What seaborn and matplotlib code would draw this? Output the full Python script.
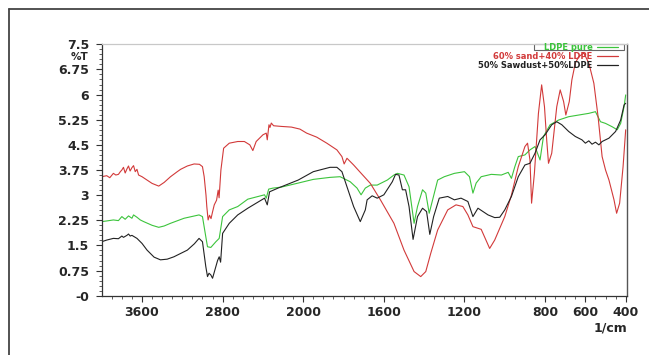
import numpy as np
import pandas as pd
import matplotlib
matplotlib.use("Agg")
import matplotlib.pyplot as plt
from matplotlib.lines import Line2D
from matplotlib.patches import Rectangle
from matplotlib.ticker import FixedLocator, FuncFormatter
import seaborn as sns

# ---------------- data ----------------
series_names = ["LDPE pure", "60% sand+40% LDPE", "50% Sawdust+50%LDPE"]
series_colors = ["#3cc43c", "#d23a3a", "#222222"]

green_wn = [4000, 3950, 3884, 3834, 3800, 3767, 3734, 3700, 3684, 3650, 3617, 3583, 3500, 3434,
            3380, 3317, 3183, 3034, 3000, 2967, 2950, 2917, 2867, 2834, 2800, 2734, 2650, 2550,
            2384, 2367, 2343, 2300, 2217, 2050, 1950, 1867, 1817, 1767, 1733, 1713, 1692, 1667,
            1633, 1583, 1550, 1533, 1500, 1475, 1450, 1433, 1408, 1392, 1375, 1358, 1333, 1300,
            1250, 1200, 1175, 1158, 1142, 1117, 1067, 1017, 983, 967, 950, 933, 900, 875, 850,
            825, 808, 775, 733, 683, 633, 583, 550, 525, 500, 467, 442, 425, 408, 400]
green_t = [2.21, 2.23, 2.26, 2.24, 2.36, 2.28, 2.38, 2.31, 2.41, 2.34, 2.26, 2.21, 2.10, 2.04,
           2.08, 2.16, 2.31, 2.41, 2.36, 1.76, 1.46, 1.44, 1.61, 1.71, 2.36, 2.56, 2.66, 2.88,
           3.01, 2.91, 3.18, 3.21, 3.24, 3.36, 3.47, 3.53, 3.55, 3.40, 3.21, 3.01, 3.21, 3.30,
           3.30, 3.45, 3.60, 3.65, 3.60, 3.25, 2.16, 2.66, 3.16, 3.06, 2.46, 2.86, 3.45, 3.55,
           3.65, 3.70, 3.55, 3.06, 3.36, 3.55, 3.62, 3.60, 3.68, 3.50, 3.85, 4.15, 4.20, 4.35, 4.45,
           4.05, 4.75, 5.10, 5.24, 5.34, 5.39, 5.44, 5.49, 5.19, 5.14, 5.04, 4.95, 5.14, 5.64, 5.99]

red_wn = [4000, 3950, 3920, 3884, 3860, 3834, 3815, 3800, 3784, 3767, 3750, 3734, 3718, 3700,
          3684, 3667, 3650, 3634, 3600, 3550, 3500, 3434, 3380, 3317, 3250, 3217, 3150, 3083,
          3030, 3000, 2983, 2965, 2957, 2944, 2930, 2915, 2900, 2883, 2860, 2844, 2835, 2817,
          2790, 2734, 2650, 2584, 2530, 2500, 2467, 2400, 2367, 2357, 2340, 2330, 2317, 2294,
          2217, 2117, 2033, 1983, 1933, 1883, 1833, 1808, 1797, 1783, 1750, 1717, 1667, 1617,
          1550, 1500, 1450, 1417, 1392, 1367, 1333, 1283, 1242, 1208, 1183, 1158, 1117, 1075,
          1050, 1000, 967, 933, 900, 887, 875, 867, 853, 833, 817, 803, 792, 783, 767, 742, 725,
          708, 697, 680, 667, 650, 633, 608, 583, 558, 537, 517, 500, 483, 458, 445, 430, 413,
          400]
red_t = [3.55, 3.58, 3.52, 3.65, 3.60, 3.62, 3.70, 3.75, 3.83, 3.66, 3.78, 3.87, 3.72, 3.82,
         3.88, 3.70, 3.77, 3.60, 3.55, 3.45, 3.35, 3.27, 3.38, 3.55, 3.70, 3.77, 3.87, 3.93,
         3.92, 3.85, 3.55, 3.00, 2.66, 2.26, 2.40, 2.30, 2.50, 2.71, 2.85, 3.15, 2.92, 3.75,
         4.40, 4.55, 4.60, 4.60, 4.50, 4.33, 4.60, 4.80, 4.85, 4.65, 5.10, 5.02, 5.15, 5.07,
         5.05, 5.03, 4.97, 4.85, 4.73, 4.55, 4.35, 4.15, 3.93, 4.10, 3.90, 3.68, 3.35, 2.86,
         2.16, 1.36, 0.72, 0.57, 0.72, 1.27, 1.96, 2.56, 2.71, 2.66, 2.41, 2.06, 1.98, 1.41,
         1.66, 2.36, 3.00, 3.85, 4.45, 4.55, 4.05, 2.76, 3.65, 5.44, 6.29, 5.64, 4.65, 3.95, 4.25,
         5.64, 6.14, 5.79, 5.39, 5.79, 6.44, 6.94, 7.13, 7.24, 6.94, 6.34, 5.34, 4.15, 3.75, 3.45,
         2.86, 2.46, 2.76, 3.85, 4.95]

black_wn = [4000, 3950, 3884, 3834, 3800, 3784, 3750, 3734, 3717, 3700, 3650, 3600, 3550, 3480,
            3417, 3350, 3284, 3150, 3080, 3034, 3000, 2967, 2950, 2935, 2917, 2900, 2867, 2850,
            2834, 2820, 2800, 2734, 2650, 2550, 2384, 2357, 2334, 2250, 2050, 1950, 1867, 1833,
            1808, 1783, 1750, 1717, 1692, 1683, 1658, 1633, 1600, 1558, 1542, 1525, 1508, 1492,
            1475, 1455, 1433, 1408, 1388, 1372, 1353, 1325, 1283, 1250, 1217, 1183, 1158, 1133,
            1108, 1083, 1050, 1025, 1000, 967, 933, 900, 875, 850, 825, 800, 767, 742, 717, 683,
            650, 617, 600, 583, 567, 550, 533, 517, 483, 450, 425, 408, 400]
black_t = [1.61, 1.66, 1.71, 1.70, 1.78, 1.74, 1.80, 1.84, 1.78, 1.80, 1.71, 1.56, 1.36, 1.15,
           1.07, 1.09, 1.16, 1.36, 1.55, 1.71, 1.61, 0.87, 0.57, 0.67, 0.62, 0.52, 0.87, 1.05,
           1.16, 1.00, 1.86, 2.16, 2.41, 2.61, 2.91, 2.71, 3.10, 3.21, 3.45, 3.70, 3.83, 3.83,
           3.70, 3.25, 2.66, 2.21, 2.56, 2.86, 2.98, 2.91, 3.01, 3.40, 3.62, 3.60, 3.16, 3.16,
           2.66, 1.68, 2.36, 2.61, 2.51, 1.83, 2.36, 2.91, 2.96, 2.86, 2.91, 2.81, 2.36, 2.61,
           2.51, 2.41, 2.33, 2.34, 2.56, 2.96, 3.55, 3.90, 3.95, 4.25, 4.65, 4.80, 5.10, 5.19,
           5.10, 4.90, 4.75, 4.65, 4.55, 4.62, 4.52, 4.58, 4.50, 4.60, 4.70, 4.90, 5.24, 5.69, 5.74]

x_major = [3600, 2800, 2000, 1600, 1200, 800, 600, 400]
y_major = [0, 0.75, 1.5, 2.25, 3, 3.75, 4.5, 5.25, 6, 6.75, 7.5]
y_labels = ["-0", "0.75", "1.5", "2.25", "3", "3.75", "4.5", "5.25", "6", "6.75", "7.5"]

# ---------------- frame ----------------
df = pd.concat([
    pd.DataFrame({"wn": green_wn, "T": green_t, "s": series_names[0]}),
    pd.DataFrame({"wn": red_wn, "T": red_t, "s": series_names[1]}),
    pd.DataFrame({"wn": black_wn, "T": black_t, "s": series_names[2]}),
], ignore_index=True)

sns.set_theme(style="white")
plt.rcParams["font.family"] = ["DejaVu Sans"]

W, H = 649, 355
fig = plt.figure(figsize=(W / 100, H / 100), dpi=100)
x0, x1, ytop, ybot = 101.7, 627.0, 44.3, 295.7
ax = fig.add_axes([x0 / W, 1 - ybot / H, (x1 - x0) / W, (ybot - ytop) / H])


def fwd(x):
    x = np.asarray(x, dtype=float)
    return np.where(x > 2000, 2000 + (x - 2000) / 2.0, x)


def inv(y):
    y = np.asarray(y, dtype=float)
    return np.where(y > 2000, 2000 + (y - 2000) * 2.0, y)


ax.set_xscale("function", functions=(fwd, inv))

sns.lineplot(data=df, x="wn", y="T", hue="s", hue_order=series_names,
             palette=dict(zip(series_names, series_colors)), estimator=None,
             sort=False, linewidth=0.8, ax=ax, legend=True)

ax.set_xlim(4000, 393.5)
ax.set_ylim(0, 7.5)

TICK_FS = 9
ax.xaxis.set_major_locator(FixedLocator(x_major))
ax.xaxis.set_major_formatter(FuncFormatter(lambda v, p: f"{int(round(v))}"))
minor_x = list(range(3900, 2000, -100)) + list(range(1950, 399, -50))
minor_x = [m for m in minor_x if m not in x_major]
ax.xaxis.set_minor_locator(FixedLocator(minor_x))
ax.yaxis.set_major_locator(FixedLocator(y_major))
ax.set_yticklabels(y_labels)
ax.yaxis.set_minor_locator(FixedLocator([round(0.15 * i, 2) for i in range(51)]))

ax.tick_params(axis="both", which="major", direction="out", length=4.5, width=0.8,
               color="#333333", labelsize=TICK_FS, pad=3)
ax.tick_params(axis="both", which="minor", direction="out", length=2.5, width=0.6,
               color="#444444")
ax.tick_params(axis="y", which="major", pad=4.5)
ax.tick_params(bottom=True, left=True, which="both")
for lab in ax.get_xticklabels() + ax.get_yticklabels():
    lab.set_fontweight("bold")

for side, col, lw in [("left", "#333333", 0.9), ("bottom", "#333333", 0.9),
                      ("top", "#c8c8c8", 0.9), ("right", "#555555", 1.0)]:
    ax.spines[side].set_color(col)
    ax.spines[side].set_linewidth(lw)
    ax.spines[side].set_visible(True)

ax.set_ylabel("")
ax.set_xlabel("1/cm", loc="right", fontsize=TICK_FS, fontweight="bold", labelpad=1.5)

ax.annotate("%T", xy=(0, 7.125), xycoords=("axes fraction", "data"),
            xytext=(-9.5, 0), textcoords="offset points", ha="right", va="center",
            fontsize=7.5, fontweight="bold")

# legend
handles, labels = ax.get_legend_handles_labels()
leg = ax.legend(handles, labels, loc="upper right", bbox_to_anchor=(0.985, 1.008),
                frameon=False, markerfirst=False, fontsize=6, handlelength=2.6,
                handletextpad=0.5, labelspacing=0.0, borderpad=0.1, borderaxespad=0)
for txt, col in zip(leg.get_texts(), series_colors):
    txt.set_color(col)
    txt.set_fontweight("bold")
for ln in leg.get_lines():
    ln.set_linewidth(0.9)

ax.add_patch(Rectangle((0.8225, 0.978), 0.172, 0.022, transform=ax.transAxes,
                       fill=False, edgecolor="#666666", linewidth=0.8, clip_on=False))

# outer frame (top and left edges)
fig.add_artist(Line2D([9 / W, 1], [1 - 9 / H, 1 - 9 / H], transform=fig.transFigure,
                      color="#444444", linewidth=1.3))
fig.add_artist(Line2D([9 / W, 9 / W], [0, 1 - 9 / H], transform=fig.transFigure,
                      color="#444444", linewidth=1.3))

fig.savefig("out.png", dpi=100, facecolor="white")
